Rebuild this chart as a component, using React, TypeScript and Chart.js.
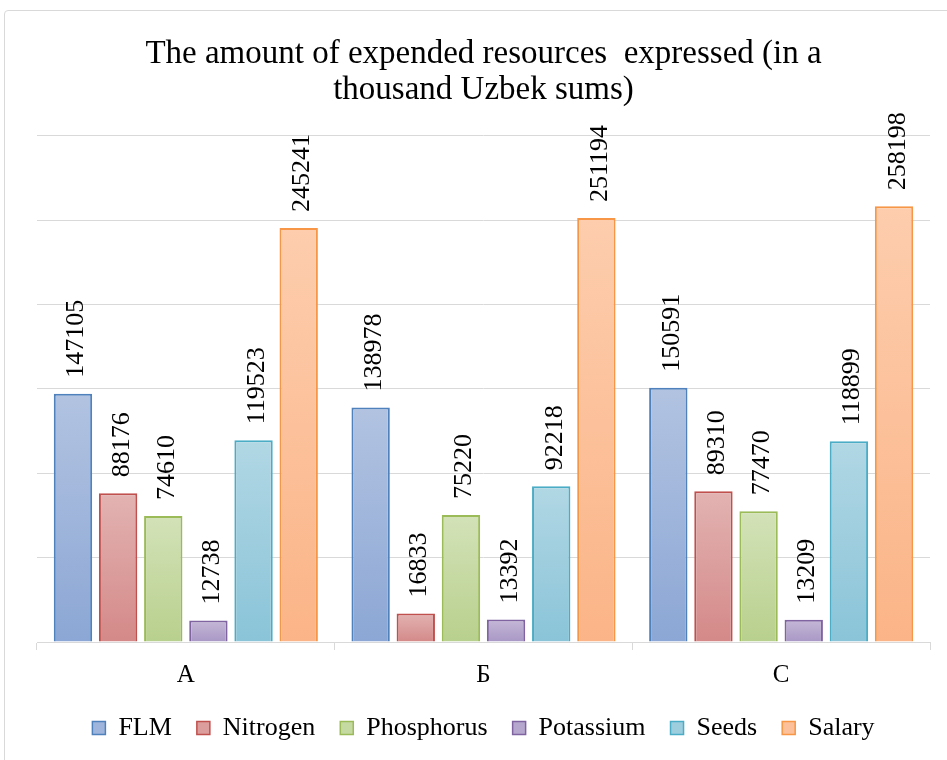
import React, { useEffect, useRef } from "react";
import { Chart, registerables } from "chart.js";

Chart.register(...registerables);

const categories = ["A", "Б", "C"];
const seriesNames = ["FLM", "Nitrogen", "Phosphorus", "Potassium", "Seeds", "Salary"];
const flm = [147105, 138978, 150591];
const nitrogen = [88176, 16833, 89310];
const phosphorus = [74610, 75220, 77470];
const potassium = [12738, 13392, 13209];
const seeds = [119523, 92218, 118899];
const salary = [245241, 251194, 258198];
const seriesValues = [flm, nitrogen, phosphorus, potassium, seeds, salary];
const yMin = 0;
const yMax = 300000;
const yStep = 50000;
const titleLines = ["The amount of expended resources  expressed (in a", "thousand Uzbek sums)"];

const borderColors = ["#4f81bd", "#c0504d", "#9bbb59", "#8064a2", "#4bacc6", "#f79646"];
const topColors = ["#b2c3e1", "#e2b3b2", "#d3e2b8", "#c5b8d7", "#b1d7e4", "#fdcdad"];
const bottomColors = ["#8ca7d5", "#d48988", "#b8d08d", "#a897c5", "#8ac4d8", "#fbb487"];
const midColors = ["#9fb5db", "#db9e9d", "#c5d9a3", "#b6a7ce", "#9dcede", "#fcc09a"];

const SERIF = "'Liberation Serif', 'Times New Roman', serif";

const makeBg = (top: string, bottom: string) => (ctx: any) => {
  const chart = ctx.chart;
  const y = chart.scales && chart.scales.y;
  if (!y || ctx.type !== "data") return bottom;
  const v = ctx.raw as number;
  const y0 = y.getPixelForValue(v);
  const y1 = y.getPixelForValue(0);
  if (!isFinite(y0) || !isFinite(y1) || Math.abs(y1 - y0) < 1) return bottom;
  const g = chart.ctx.createLinearGradient(0, y0, 0, y1);
  g.addColorStop(0, top);
  g.addColorStop(1, bottom);
  return g;
};

const valueLabels = {
  id: "valueLabels",
  afterDatasetsDraw(chart: any) {
    const ctx = chart.ctx;
    ctx.save();
    ctx.font = `26px ${SERIF}`;
    ctx.fillStyle = "#000";
    ctx.textAlign = "left";
    ctx.textBaseline = "alphabetic";
    chart.data.datasets.forEach((ds: any, di: number) => {
      const meta = chart.getDatasetMeta(di);
      meta.data.forEach((el: any, i: number) => {
        const v = ds.data[i];
        ctx.save();
        ctx.translate(el.x + 10.5, el.y - 16);
        ctx.rotate(-Math.PI / 2);
        ctx.fillText(String(v), 0, 0);
        ctx.restore();
      });
    });
    ctx.restore();
  },
};

export default function App() {
  const ref = useRef<HTMLCanvasElement | null>(null);
  useEffect(() => {
    if (!ref.current) return;
    const chart = new Chart(ref.current, {
      type: "bar",
      data: {
        labels: categories,
        datasets: seriesNames.map((name, i) => ({
          label: name,
          data: seriesValues[i],
          backgroundColor: makeBg(topColors[i], bottomColors[i]),
          borderColor: borderColors[i],
          borderWidth: 2,
          categoryPercentage: 0.91,
          barPercentage: 0.85,
        })),
      },
      options: {
        responsive: false,
        maintainAspectRatio: false,
        animation: false,
        devicePixelRatio: 1,
        layout: { padding: { left: 37, right: 17, top: 0, bottom: 9 } },
        plugins: {
          title: {
            display: true,
            text: titleLines,
            color: "#000",
            font: { family: SERIF, size: 33, weight: "normal", lineHeight: 1.1 },
            padding: { top: 36, bottom: 27 },
          },
          legend: {
            display: true,
            position: "bottom",
            labels: {
              color: "#000",
              font: { family: SERIF, size: 26 },
              boxWidth: 13,
              boxHeight: 13,
              padding: 25,
              generateLabels: () =>
                seriesNames.map((name, i) => ({
                  text: name,
                  fillStyle: midColors[i],
                  strokeStyle: borderColors[i],
                  lineWidth: 1.5,
                  hidden: false,
                  datasetIndex: i,
                  fontColor: "#000",
                })),
            },
          },
          tooltip: { enabled: false },
        },
        scales: {
          x: {
            grid: {
              display: true,
              drawOnChartArea: false,
              drawTicks: true,
              tickLength: 8,
              color: "#d9d9d9",
              offset: true,
            },
            border: { display: true, color: "#d9d9d9", width: 1 },
            ticks: { color: "#000", font: { family: SERIF, size: 25 }, padding: 10 },
            afterFit: (scale: any) => {
              scale.height = scale.height - 10;
            },
          },
          y: {
            min: yMin,
            max: yMax,
            ticks: { display: false, stepSize: yStep },
            grid: { color: "#d9d9d9", drawTicks: false, lineWidth: 1 },
            border: { display: false },
          },
        },
      },
      plugins: [valueLabels],
    });
    return () => chart.destroy();
  }, []);

  return (
    <div
      style={{
        position: "fixed",
        left: 0,
        top: 0,
        width: 947,
        height: 760,
        background: "#fff",
        overflow: "hidden",
      }}
    >
      <div
        style={{
          position: "absolute",
          left: 4,
          top: 10,
          width: 980,
          height: 800,
          border: "1px solid #d9d9d9",
          borderRadius: 4,
        }}
      />
      <canvas
        ref={ref}
        width={947}
        height={760}
        style={{ position: "absolute", left: 0, top: 0, width: 947, height: 760 }}
      />
    </div>
  );
}
